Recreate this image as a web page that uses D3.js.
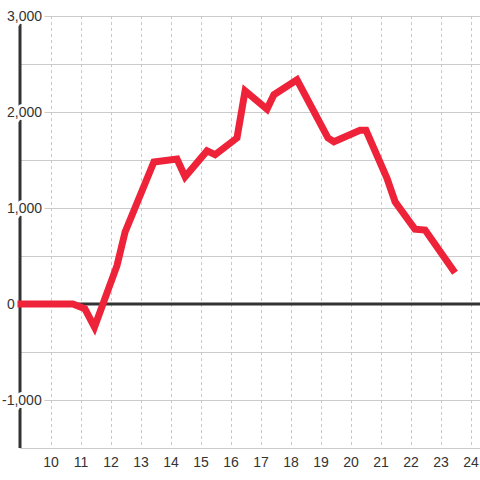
<!DOCTYPE html>
<html>
<head>
<meta charset="utf-8">
<script src="https://cdn.jsdelivr.net/npm/d3@7"></script>
<style>
  body { margin: 0; background: #fff; }
  text { font-family: "Liberation Sans", Arial, sans-serif; }
</style>
</head>
<body>
<svg width="480" height="480"></svg>
<script>
const hours = [9, 10.73, 11.13, 11.45, 12.2, 12.47, 13.43, 14.2, 14.47, 15.2, 15.47, 16.2, 16.47, 17.2, 17.43, 18.2, 19.23, 19.43, 20.3, 20.5, 21.2, 21.47, 22.13, 22.47, 23.4]
const values = [0, 0, -50, -240, 400, 750, 1480, 1510, 1325, 1595, 1555, 1730, 2220, 2030, 2180, 2335, 1730, 1690, 1810, 1810, 1310, 1065, 780, 770, 355]
const xTicks = [10, 11, 12, 13, 14, 15, 16, 17, 18, 19, 20, 21, 22, 23, 24]
const yTicks = [3000, 2000, 1000, 0, -1000]
const yGrid = [3000, 2500, 2000, 1500, 1000, 500, 0, -500, -1000, -1500]

const svg = d3.select('svg')

const xScale = d3.scaleLinear()
    .domain([9, 24.3])
    .range([21, 480])

const yScale = d3.scaleLinear()
    .domain([-1500, 3000])
    .range([448, 16])

// horizontal grid
svg.selectAll('.hgrid')
    .data(yGrid)
    .enter()
    .append('line')
    .attr('x1', 20).attr('x2', 480)
    .attr('y1', d => yScale(d)).attr('y2', d => yScale(d))
    .attr('stroke', '#ccc')
    .attr('stroke-width', 1)
    .attr('shape-rendering', 'crispEdges')

// vertical dotted grid
svg.selectAll('.vgrid')
    .data(xTicks)
    .enter()
    .append('line')
    .attr('x1', d => xScale(d)).attr('x2', d => xScale(d))
    .attr('y1', yScale(3000)).attr('y2', yScale(-1500))
    .attr('stroke', '#c8c8c8')
    .attr('stroke-width', 1)
    .attr('stroke-dasharray', '3,3')
    .attr('shape-rendering', 'crispEdges')

// zero line
svg.append('line')
    .attr('x1', 20).attr('x2', 480)
    .attr('y1', yScale(0)).attr('y2', yScale(0))
    .attr('stroke', '#333')
    .attr('stroke-width', 3)

// y axis line
svg.append('line')
    .attr('x1', 20).attr('x2', 20)
    .attr('y1', yScale(3000)).attr('y2', yScale(-1500))
    .attr('stroke', '#333')
    .attr('stroke-width', 3)

// y labels, left aligned with minus hanging out, white halo masks axis + grid
svg.selectAll('.ylab')
    .data(yTicks)
    .enter()
    .append('text')
    .attr('x', d => d < 0 ? 2 : 7)
    .attr('y', d => yScale(d))
    .attr('dy', '0.35em')
    .attr('text-anchor', 'start')
    .attr('font-size', 14)
    .attr('fill', '#333')
    .attr('stroke', '#fff')
    .attr('stroke-width', 6)
    .attr('paint-order', 'stroke')
    .text(d => d3.format(',')(d).replace('−', '-'))

// data line
const line = d3.line()
    .x((d, i) => xScale(hours[i]))
    .y(d => yScale(d))

svg.append('path')
    .datum(values)
    .attr('d', line)
    .attr('fill', 'none')
    .attr('stroke', '#ee2238')
    .attr('stroke-width', 7)
    .attr('stroke-linejoin', 'miter')
    .attr('stroke-linecap', 'square')

// x labels
svg.selectAll('.xlab')
    .data(xTicks)
    .enter()
    .append('text')
    .attr('x', d => xScale(d))
    .attr('y', 462)
    .attr('dy', '0.35em')
    .attr('text-anchor', 'middle')
    .attr('font-size', 14)
    .attr('fill', '#333')
    .text(d => d)
</script>
</body>
</html>
